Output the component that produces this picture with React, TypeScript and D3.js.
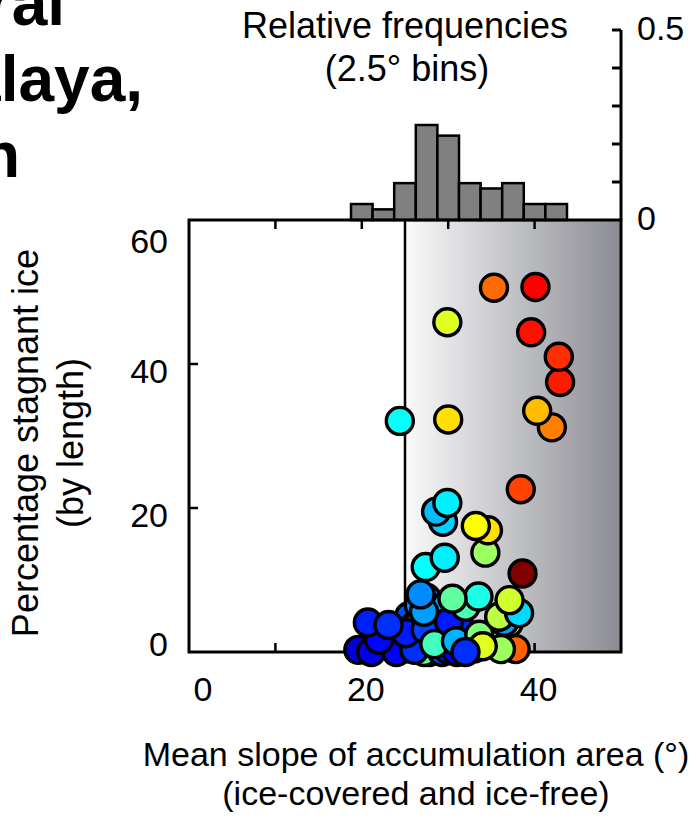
import React from "react";
import * as d3 from "d3";

// Mean slope of accumulation area (degrees) for each glacier
const slope = [
  25.5, 25.0, 26.0, 27.0, 27.8, 28.2, 26.8, 27.5, 28.5, 28.0, 26.5, 28.6, 27.2, 28.3, 26.6,
  29.3, 29.5, 30.0, 29.0, 30.5, 29.8, 31.0, 29.2, 31.8, 33.0, 37.0,
  19.6, 21.1, 24.0, 22.0, 26.1, 25.1, 20.7, 23.1, 27.4, 30.1, 28.4, 30.9, 32.0,
  37.8, 33.6, 36.1, 34.0, 36.5, 35.9, 38.2, 32.0, 27.2, 26.8, 37.1, 33.5, 30.5,
  38.6, 27.4, 29.6, 34.3, 34.6, 33.2, 29.4, 28.6, 29.9, 38.4,
  42.0, 40.3, 30.0, 24.4, 42.95, 42.8, 39.6, 29.9, 40.1, 35.3,
];

// Percentage of stagnant ice (by length) for each glacier
const stagnant = [
  5.0, 0.5, 3.5, 1.0, 0.0, 3.8, 4.5, 7.5, 6.0, 2.0, 2.0, 0.3, 0.0, 4.8, 6.5,
  0.0, 2.5, 0.3, 5.0, 3.0, 6.5, 0.0, 3.8, 2.8, 0.5, 4.0,
  0.3, 0.0, 0.0, 1.7, 0.3, 2.6, 4.1, 3.75, 3.1, 4.2, 1.1, 1.5, 6.3,
  0.4, 2.4, 0.4, 0.8, 4.2, 4.9, 5.4, 0.0, 5.6, 8.0, 7.2, 7.7, 7.4,
  10.9, 11.8, 13.1, 13.8, 16.9, 17.5, 18.1, 19.5, 20.7, 22.6,
  31.2, 33.5, 32.3, 32.1, 37.5, 41.0, 44.4, 45.8, 50.7, 50.6,
];

// Colour-scale position (0–1) of each glacier
const colourValue = [
  0.2, 0.12, 0.22, 0.15, 0.2, 0.25, 0.3, 0.24, 0.4, 0.12, 0.18, 0.35, 0.45, 0.16, 0.27,
  0.2, 0.1, 0.15, 0.2, 0.18, 0.3, 0.12, 0.42, 0.16, 0.35, 0.57,
  0.08, 0.1, 0.12, 0.13, 0.17, 0.15, 0.155, 0.17, 0.19, 0.15, 0.44, 0.3, 0.45,
  0.78, 0.5, 0.53, 0.595, 0.28, 0.56, 0.34, 0.17, 0.28, 0.26, 0.58, 0.4, 0.47,
  1.0, 0.38, 0.36, 0.53, 0.655, 0.625, 0.33, 0.31, 0.36, 0.81,
  0.75, 0.69, 0.655, 0.38, 0.85, 0.83, 0.86, 0.595, 0.875, 0.77,
];

// Histogram of slopes: bin centres (2.5° bins) and relative frequencies
const binCentres = [20, 22.5, 25, 27.5, 30, 32.5, 35, 37.5, 40, 42.5];
const relFreq = [0.042, 0.028, 0.097, 0.25, 0.222, 0.097, 0.083, 0.097, 0.042, 0.042];
const binWidth = 2.5;

const xTickLabels = [0, 20, 40];
const xTicks = [10, 20, 30, 40];
const yTickLabels = [0, 20, 40, 60];
const yTicks = [20, 40];
const histTicks = [0.1, 0.2, 0.3, 0.4, 0.5];
const histTickLabels = [0, 0.5];
const shadeFrom = 25;

const titleLines = ["Central", "Himalaya,", "Bhutan"];

const W = 698;
const H = 818;
const FONT = "'Liberation Sans', Arial, Helvetica, sans-serif";

const jet = d3
  .scaleLinear<string>()
  .domain([0, 0.125, 0.375, 0.625, 0.875, 1])
  .range(["#00008f", "#0000ff", "#00ffff", "#ffff00", "#ff0000", "#800000"])
  .interpolate(d3.interpolateRgb);

export default function App() {
  const left = 189;
  const right = 621;
  const top = 220;
  const bottom = 652;
  const histTop = 30;

  const x = d3.scaleLinear().domain([0, 50]).range([left, right]);
  const y = d3.scaleLinear().domain([0, 60]).range([bottom, top]);
  const hy = d3.scaleLinear().domain([0, 0.5]).range([top, histTop]);

  const tickLen = 9;
  const xLabelNudge = (v: number) => (v === 0 ? 14 : 4);
  const yLabelNudge = (v: number) => (v === 60 ? 24 : v === 0 ? -5 : 10);

  const points = slope.map((s, i) => ({ s, p: stagnant[i], c: colourValue[i] }));

  return (
    <svg
      width={W}
      height={H}
      style={{ position: "absolute", left: 0, top: 0, background: "#fff" }}
      fontFamily={FONT}
    >
      <defs>
        <linearGradient id="iceFreeShade" x1="0" x2="1" y1="0" y2="0">
          <stop offset="0%" stopColor="#fafafa" />
          <stop offset="100%" stopColor="#8b8c93" />
        </linearGradient>
        <clipPath id="plotClip">
          <rect x={left} y={top} width={right - left} height={bottom - top + 20} />
        </clipPath>
      </defs>

      {/* panel title, running off the left edge */}
      {titleLines.map((t, i) => (
        <text
          key={t}
          x={[65, 143, 20][i]}
          y={25 + i * 76}
          textAnchor="end"
          fontSize={64}
          fontWeight="bold"
          fill="#000"
        >
          {t}
        </text>
      ))}

      {/* shaded slope range */}
      <rect
        x={x(shadeFrom)}
        y={top}
        width={x(50) - x(shadeFrom)}
        height={bottom - top}
        fill="url(#iceFreeShade)"
      />
      <line x1={x(shadeFrom)} x2={x(shadeFrom)} y1={top} y2={bottom} stroke="#000" strokeWidth={2.5} />

      {/* histogram */}
      {binCentres.map((c, i) => (
        <rect
          key={c}
          x={x(c - binWidth / 2)}
          y={hy(relFreq[i])}
          width={x(c + binWidth / 2) - x(c - binWidth / 2)}
          height={hy(0) - hy(relFreq[i])}
          fill="#808080"
          stroke="#000"
          strokeWidth={2.5}
        />
      ))}
      <line x1={right} x2={right} y1={hy(0)} y2={hy(0.5)} stroke="#000" strokeWidth={3} />
      {histTicks.map((t) => (
        <line key={t} x1={right - tickLen} x2={right} y1={hy(t)} y2={hy(t)} stroke="#000" strokeWidth={3} />
      ))}
      {histTickLabels.map((t) => (
        <text key={t} x={637} y={hy(t) + 1} dominantBaseline="middle" fontSize={34} fill="#000">
          {t}
        </text>
      ))}
      <text x={405} y={28} textAnchor="middle" dominantBaseline="middle" fontSize={36} fill="#000">
        Relative frequencies
      </text>
      <text x={407} y={71} textAnchor="middle" dominantBaseline="middle" fontSize={36} fill="#000">
        (2.5° bins)
      </text>

      {/* axes frame and ticks */}
      {xTicks.map((t) => (
        <g key={t}>
          <line x1={x(t)} x2={x(t)} y1={top} y2={top + tickLen} stroke="#000" strokeWidth={2.5} />
          <line x1={x(t)} x2={x(t)} y1={bottom} y2={bottom - tickLen} stroke="#000" strokeWidth={2.5} />
        </g>
      ))}
      {yTicks.map((t) => (
        <line key={t} x1={left} x2={left + tickLen} y1={y(t)} y2={y(t)} stroke="#000" strokeWidth={2.5} />
      ))}
      <rect
        x={left}
        y={top}
        width={right - left}
        height={bottom - top}
        fill="none"
        stroke="#000"
        strokeWidth={3}
      />

      {/* glaciers */}
      <g clipPath="url(#plotClip)">
        {points.map((d, i) => (
          <circle
            key={i}
            cx={x(d.s)}
            cy={y(d.p)}
            r={13.5}
            fill={jet(d.c)}
            stroke="#000"
            strokeWidth={3.4}
          />
        ))}
      </g>

      {/* tick labels */}
      {xTickLabels.map((t) => (
        <text
          key={t}
          x={x(t) + xLabelNudge(t)}
          y={692}
          textAnchor="middle"
          dominantBaseline="middle"
          fontSize={34}
          fill="#000"
        >
          {t}
        </text>
      ))}
      {yTickLabels.map((t) => (
        <text
          key={t}
          x={168}
          y={y(t) + yLabelNudge(t)}
          textAnchor="end"
          dominantBaseline="middle"
          fontSize={34}
          fill="#000"
        >
          {t}
        </text>
      ))}

      {/* axis titles */}
      <text x={416} y={757} textAnchor="middle" dominantBaseline="middle" fontSize={34} fill="#000">
        Mean slope of accumulation area (°)
      </text>
      <text x={416} y={796} textAnchor="middle" dominantBaseline="middle" fontSize={34} fill="#000">
        (ice-covered and ice-free)
      </text>
      <g transform="translate(28,443) rotate(-90)">
        <text x={0} y={0} textAnchor="middle" dominantBaseline="middle" fontSize={36} fill="#000">
          Percentage stagnant ice
        </text>
      </g>
      <g transform="translate(73,443) rotate(-90)">
        <text x={0} y={0} textAnchor="middle" dominantBaseline="middle" fontSize={36} fill="#000">
          (by length)
        </text>
      </g>
    </svg>
  );
}
